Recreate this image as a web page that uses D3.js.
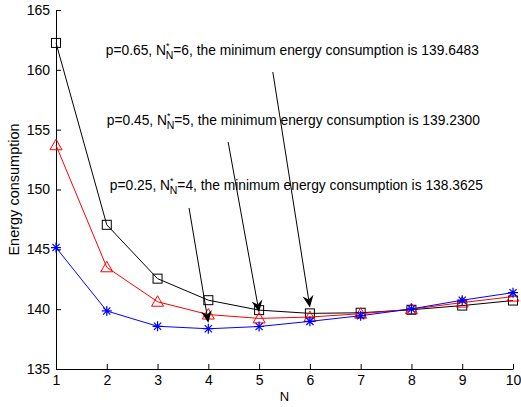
<!DOCTYPE html>
<html>
<head>
<meta charset="utf-8">
<script src="https://cdn.jsdelivr.net/npm/d3@7"></script>
<style>
  html, body { margin: 0; padding: 0; background: #fff; }
  svg { display: block; font-family: "Liberation Sans", Arial, Helvetica, sans-serif; }
</style>
</head>
<body>
<svg id="chart" width="521" height="407"></svg>
<script>
// Number of nodes N
const nValues = [1, 2, 3, 4, 5, 6, 7, 8, 9, 10];

// Energy consumption for each probability p
const energyP065 = [162.25, 147.05, 142.55, 140.75, 139.92, 139.6483, 139.70, 139.95, 140.30, 140.72];
const energyP045 = [153.70, 143.50, 140.62, 139.55, 139.23, 139.34, 139.62, 140.00, 140.55, 141.05];
const energyP025 = [145.15, 139.85, 138.57, 138.3625, 138.55, 138.98, 139.45, 140.02, 140.75, 141.38];

const yTicks = [135, 140, 145, 150, 155, 160, 165];

// Annotation content: p, optimal N and minimum energy
const noteP = ["0.65", "0.45", "0.25"];
const noteN = [6, 5, 4];
const noteMin = [139.6483, 139.2300, 138.3625];
// Annotation text anchors and arrow tails (data units)
const noteTextX = [1.98, 2.0, 2.06];
const noteTextY = [161.24, 155.4, 149.96];
const arrowTailX = [5.27, 4.39, 3.62];
const arrowTailY = [159.82, 153.97, 148.46];

const svg = d3.select("#chart");
const margin = { left: 56, right: 8, top: 10, bottom: 38 };
const W = 521, H = 407;

const x = d3.scaleLinear().domain([1, 10]).range([margin.left, W - margin.right]);
const y = d3.scaleLinear().domain([135, 165]).range([H - margin.bottom, margin.top]);

// Axes with inward ticks
svg.append("g")
  .attr("transform", `translate(0,${y(135)})`)
  .call(d3.axisBottom(x).tickValues(nValues).tickFormat(d3.format("d"))
    .tickSizeInner(-5).tickSizeOuter(0).tickPadding(6))
  .call(g => g.selectAll("text").attr("font-size", 14).attr("fill", "#000").attr("font-family", null))
  .call(g => g.selectAll("line, path").attr("stroke", "#000"));

svg.append("g")
  .attr("transform", `translate(${x(1)},0)`)
  .call(d3.axisLeft(y).tickValues(yTicks).tickFormat(d3.format("d"))
    .tickSizeInner(-5).tickSizeOuter(0).tickPadding(6))
  .call(g => g.selectAll("text").attr("font-size", 14).attr("fill", "#000").attr("font-family", null))
  .call(g => g.selectAll("line, path").attr("stroke", "#000"));

// Axis titles
svg.append("text")
  .attr("x", (x(1) + x(10)) / 2).attr("y", 401)
  .attr("text-anchor", "middle").attr("font-size", 13).text("N");

svg.append("text")
  .attr("transform", `translate(19,${(y(135) + y(165)) / 2}) rotate(-90)`)
  .attr("text-anchor", "middle").attr("font-size", 14.5).text("Energy consumption");

const line = d3.line().x((d, i) => x(nValues[i])).y(d => y(d));

const series = [
  { values: energyP065, color: "#000000", marker: "square" },
  { values: energyP045, color: "#ff0000", marker: "triangle" },
  { values: energyP025, color: "#0000ff", marker: "star" }
];

series.forEach(s => {
  svg.append("path").datum(s.values)
    .attr("d", line).attr("fill", "none")
    .attr("stroke", s.color).attr("stroke-width", 1);

  const g = svg.append("g");
  s.values.forEach((v, i) => {
    const cx = x(nValues[i]), cy = y(v);
    if (s.marker === "square") {
      g.append("rect").attr("x", cx - 4.5).attr("y", cy - 4.5)
        .attr("width", 9).attr("height", 9)
        .attr("fill", "none").attr("stroke", s.color).attr("stroke-width", 1);
    } else if (s.marker === "triangle") {
      g.append("path")
        .attr("d", `M${cx},${cy - 6}L${cx + 6},${cy + 4.5}L${cx - 6},${cy + 4.5}Z`)
        .attr("fill", "none").attr("stroke", s.color).attr("stroke-width", 1);
    } else {
      const r = 5, d = r * 0.72;
      g.append("path")
        .attr("d", `M${cx - r},${cy}L${cx + r},${cy}M${cx},${cy - r}L${cx},${cy + r}` +
                   `M${cx - d},${cy - d}L${cx + d},${cy + d}M${cx - d},${cy + d}L${cx + d},${cy - d}`)
        .attr("fill", "none").attr("stroke", s.color).attr("stroke-width", 1.2);
    }
  });
});

// Annotations: label text and an arrow pointing at the minimum
noteP.forEach((p, i) => {
  const t = svg.append("text")
    .attr("x", x(noteTextX[i])).attr("y", y(noteTextY[i]))
    .attr("font-size", 13.8).attr("fill", "#000");
  t.append("tspan").text(`p=${p}, N`);
  t.append("tspan").attr("dy", -5.5).attr("font-size", 9).text("*");
  t.append("tspan").attr("dx", -3.8).attr("dy", 9.5).attr("font-size", 10.5).text("N");
  t.append("tspan").attr("dy", -4).text(`=${noteN[i]}, the minimum energy consumption is ${noteMin[i].toFixed(4)}`);

  const x0 = x(arrowTailX[i]), y0 = y(arrowTailY[i]);
  const x1 = x(noteN[i]), y1 = y(noteMin[i]) - 6;
  const ang = Math.atan2(y1 - y0, x1 - x0);
  const L = 12, hw = 5.5, notch = 8;
  const ux = Math.cos(ang), uy = Math.sin(ang);
  const px = -uy, py = ux;
  const bx = x1 - ux * L, by = y1 - uy * L;
  const nx = x1 - ux * notch, ny = y1 - uy * notch;

  svg.append("line")
    .attr("x1", x0).attr("y1", y0).attr("x2", nx).attr("y2", ny)
    .attr("stroke", "#000").attr("stroke-width", 1);
  svg.append("path")
    .attr("d", `M${x1},${y1}L${bx + px * hw},${by + py * hw}L${nx},${ny}L${bx - px * hw},${by - py * hw}Z`)
    .attr("fill", "#000");
});
</script>
</body>
</html>
